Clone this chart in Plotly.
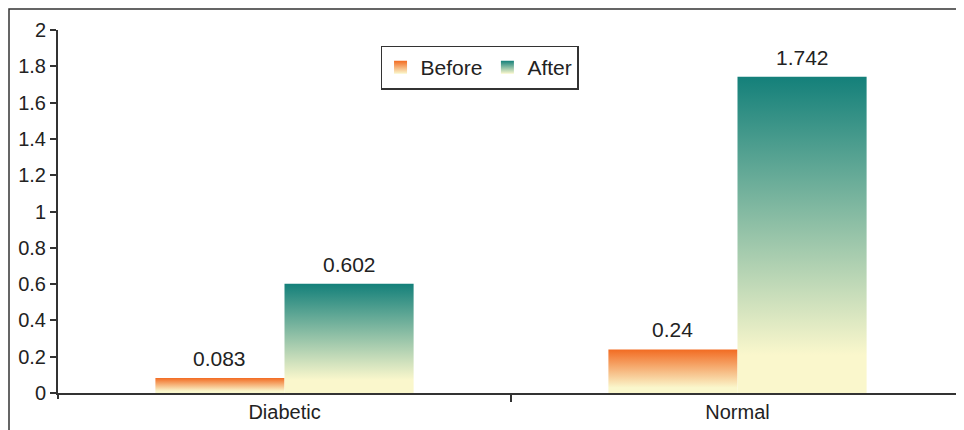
import plotly.graph_objects as go

categories = ["Diabetic", "Normal"]
before_values = [0.083, 0.24]
after_values = [0.602, 1.742]
before_labels = ["0.083", "0.24"]
after_labels = ["0.602", "1.742"]
y_ticks = [0, 0.2, 0.4, 0.6, 0.8, 1, 1.2, 1.4, 1.6, 1.8, 2]
y_tick_text = ["0", "0.2", "0.4", "0.6", "0.8", "1", "1.2", "1.4", "1.6", "1.8", "2"]

BAR_W = 0.285
CREAM = "#FAF7CC"
ORANGE = "#F26B22"
TEAL = "#14807A"
FONT = "Liberation Sans, Arial, sans-serif"
TXT = "#222222"

# figure sits inside the page's 8px body margin
W, H = 956, 422
ML, MR, MT, MB = 50, 0, 22, 36.5
PW = W - ML - MR
PH = H - MT - MB

fig = go.Figure()

series = [
    ("Before", before_values, before_labels, -BAR_W, ORANGE),
    ("After", after_values, after_labels, 0.0, TEAL),
]

# bars: one filled polygon per bar so each has its own vertical gradient
for name, vals, labels, off, col in series:
    for i, v in enumerate(vals):
        x0 = i + off
        x1 = x0 + BAR_W
        fig.add_trace(go.Scatter(
            x=[x0, x1, x1, x0, x0], y=[0, 0, v, v, 0],
            mode="none", fill="toself", name=name,
            legendgroup=name, showlegend=False,
            fillgradient=dict(type="vertical",
                              colorscale=[[0, CREAM], [0.12, CREAM], [1, col]]),
            hoverinfo="skip",
        ))

# legend entries (square gradient swatches)
for name, vals, labels, off, col in series:
    fig.add_trace(go.Scatter(
        x=[None], y=[None], mode="markers", name=name, legendgroup=name,
        marker=dict(symbol="square", size=13, color=col,
                    gradient=dict(type="vertical", color=CREAM),
                    line=dict(width=0)),
        showlegend=True, hoverinfo="skip",
    ))

annotations = []
for name, vals, labels, off, col in series:
    for i, (v, lab) in enumerate(zip(vals, labels)):
        annotations.append(dict(
            x=i + off + BAR_W / 2, y=v, xref="x", yref="y",
            text=lab, showarrow=False, yanchor="bottom", yshift=6,
            font=dict(size=21, color=TXT, family=FONT),
        ))

fig.update_layout(
    width=W, height=H,
    margin=dict(l=ML, r=MR, t=MT, b=MB, pad=0),
    plot_bgcolor="white", paper_bgcolor="white",
    font=dict(family=FONT, size=20, color=TXT),
    showlegend=True,
    legend=dict(
        orientation="h", x=0.356, y=0.957, xanchor="left", yanchor="top",
        bordercolor="#333333", borderwidth=1.5, bgcolor="white",
        font=dict(size=21, family=FONT, color=TXT),
        itemwidth=30, tracegroupgap=0,
    ),
    annotations=annotations,
    xaxis=dict(
        range=[-0.5, 1.5], tickvals=[0, 1], ticktext=categories,
        ticks="", showgrid=False, zeroline=False,
        showline=True, linecolor="#333333", linewidth=2,
        tickfont=dict(size=20, family=FONT, color=TXT),
        minor=dict(ticks="outside", tickvals=[0.5], ticklen=7,
                   tickcolor="#333333", tickwidth=2, showgrid=False),
        fixedrange=True,
    ),
    yaxis=dict(
        range=[0, 2], tickvals=y_ticks, ticktext=y_tick_text,
        ticks="outside", ticklen=6, tickwidth=1.5, tickcolor="#333333",
        showgrid=False, zeroline=False,
        showline=True, linecolor="#333333", linewidth=2,
        tickfont=dict(size=20, family=FONT, color=TXT),
        fixedrange=True,
    ),
    shapes=[
        dict(type="rect", xref="paper", yref="paper",
             x0=-(ML - 1) / PW, x1=1.2, y0=-0.3, y1=1 + (MT - 1) / PH,
             line=dict(color="#333333", width=1.5), layer="below"),
        dict(type="line", xref="paper", yref="paper",
             x0=0, x1=0, y0=0, y1=-6 / PH,
             line=dict(color="#333333", width=2)),
    ],
)

fig.write_html("out.html")
